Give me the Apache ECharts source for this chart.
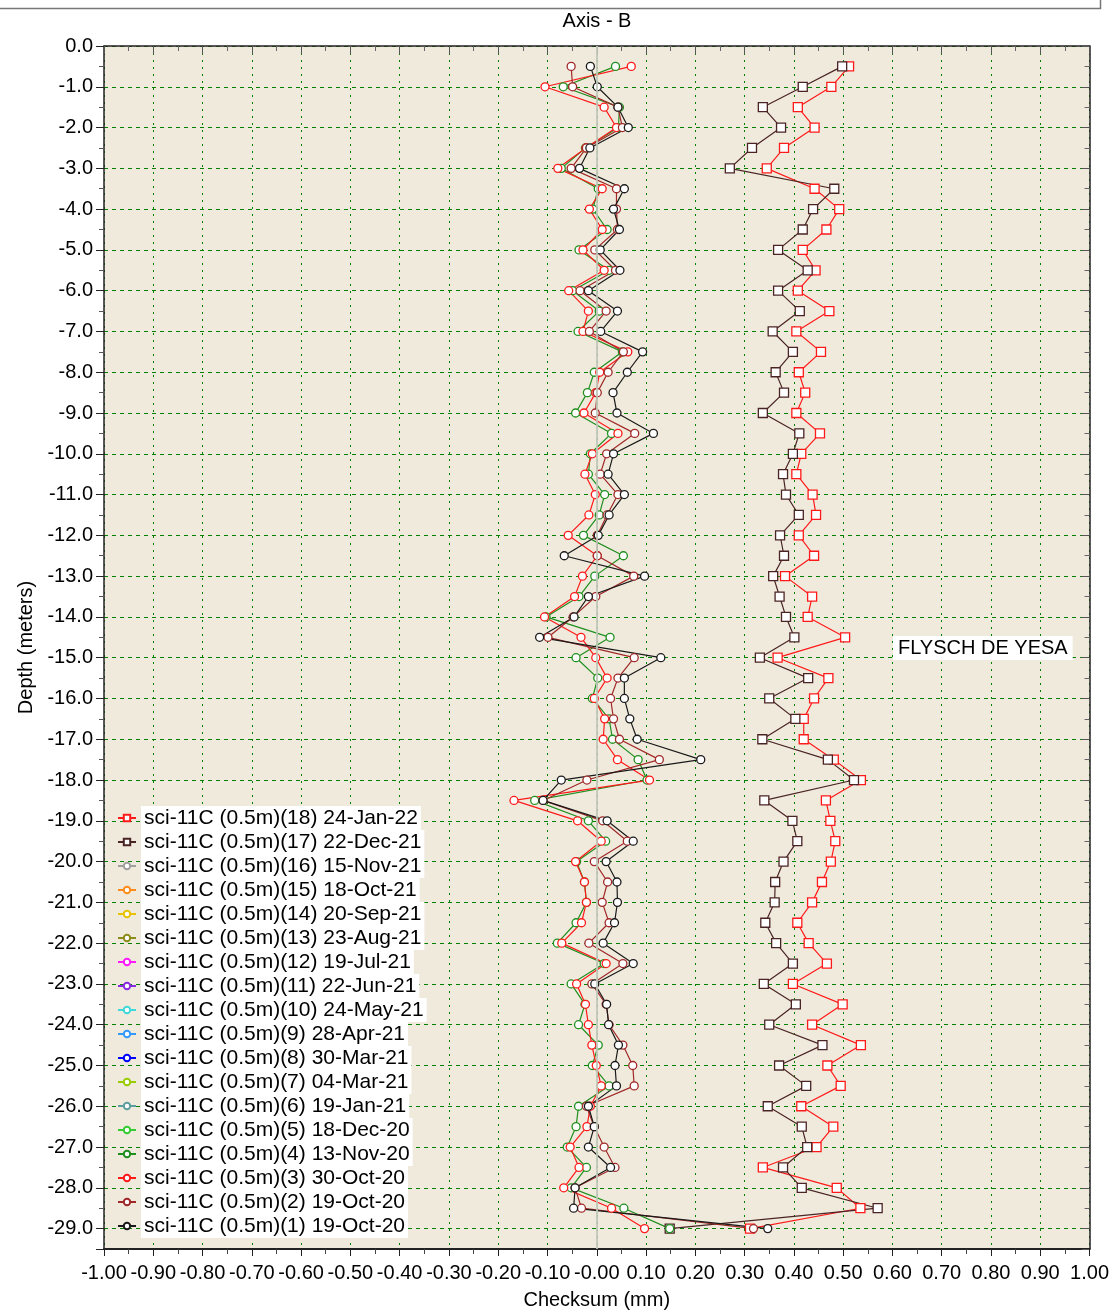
<!DOCTYPE html>
<html>
<head>
<meta charset="utf-8">
<title>Axis - B</title>
<script src="https://cdn.jsdelivr.net/npm/echarts@6/dist/echarts.min.js"></script>
<style>
  html, body { margin: 0; padding: 0; background: #fff; }
  #chart { width: 1112px; height: 1315px; }
</style>
</head>
<body>
<div id="chart"></div>
<script>
// depth of each reading (m, plotted downward)
var depths = [0.5, 1.0, 1.5, 2.0, 2.5, 3.0, 3.5, 4.0, 4.5, 5.0, 5.5, 6.0, 6.5, 7.0, 7.5, 8.0, 8.5, 9.0, 9.5, 10.0,
  10.5, 11.0, 11.5, 12.0, 12.5, 13.0, 13.5, 14.0, 14.5, 15.0, 15.5, 16.0, 16.5, 17.0, 17.5, 18.0, 18.5, 19.0, 19.5, 20.0,
  20.5, 21.0, 21.5, 22.0, 22.5, 23.0, 23.5, 24.0, 24.5, 25.0, 25.5, 26.0, 26.5, 27.0, 27.5, 28.0, 28.5, 29.0]

// checksum readings (mm), one per depth
var s18 = [0.512, 0.476, 0.408, 0.442, 0.380, 0.345, 0.442, 0.492, 0.466, 0.418, 0.444, 0.408, 0.472, 0.405, 0.455, 0.410,
  0.423, 0.405, 0.453, 0.415, 0.405, 0.438, 0.445, 0.410, 0.441, 0.382, 0.437, 0.428, 0.504, 0.367, 0.470, 0.441, 0.420,
  0.420, 0.481, 0.536, 0.465, 0.474, 0.484, 0.475, 0.457, 0.437, 0.407, 0.430, 0.467, 0.398, 0.499, 0.437, 0.536, 0.468,
  0.495, 0.415, 0.480, 0.446, 0.337, 0.487, 0.535, 0.311]
var s17 = [0.498, 0.418, 0.337, 0.374, 0.315, 0.270, 0.482, 0.439, 0.418, 0.368, 0.428, 0.368, 0.412, 0.357, 0.398, 0.363,
  0.380, 0.337, 0.411, 0.398, 0.378, 0.384, 0.410, 0.372, 0.380, 0.358, 0.371, 0.384, 0.401, 0.331, 0.429, 0.350, 0.403,
  0.336, 0.469, 0.522, 0.340, 0.397, 0.407, 0.379, 0.362, 0.361, 0.342, 0.364, 0.398, 0.339, 0.404, 0.350, 0.458, 0.370,
  0.425, 0.347, 0.416, 0.427, 0.378, 0.416, 0.570, 0.148]
var s4 = [0.038, -0.068, 0.046, 0.044, -0.023, -0.072, 0.003, -0.008, 0.021, -0.036, 0.025, -0.049, 0.005, -0.038, 0.052, -0.005,
  -0.019, -0.043, 0.030, -0.013, -0.017, 0.016, 0.005, -0.027, 0.054, -0.004, -0.036, -0.103, 0.027, -0.042, 0.002, -0.009, 0.025,
  0.032, 0.084, 0.102, -0.126, -0.017, 0.018, -0.041, -0.025, -0.021, -0.042, -0.080, 0.015, -0.052, -0.024, -0.037, 0.003, -0.009,
  0.025, -0.037, -0.042, -0.060, -0.021, -0.052, 0.055, 0.148]
var s3 = [0.070, -0.105, 0.015, 0.040, -0.022, -0.079, 0.011, -0.015, 0.011, -0.028, 0.015, -0.057, -0.017, -0.028, 0.063, 0.006,
  -0.002, -0.026, 0.043, -0.009, -0.024, -0.003, -0.016, -0.058, 0.001, -0.029, -0.045, -0.106, -0.032, -0.002, 0.021, -0.005, 0.016,
  0.013, 0.042, 0.107, -0.168, -0.039, 0.009, -0.043, -0.025, -0.021, -0.031, -0.071, 0.019, -0.041, -0.023, -0.017, -0.010, -0.001,
  0.009, -0.013, -0.020, -0.054, -0.036, -0.067, 0.030, 0.097]
var s2 = [-0.052, -0.049, 0.043, 0.052, -0.021, -0.052, 0.040, 0.040, 0.042, -0.004, 0.038, -0.034, 0.019, -0.015, 0.054, 0.023,
  0.001, -0.003, 0.077, 0.020, 0.007, 0.043, 0.021, 0.001, 0.001, 0.075, -0.002, -0.048, -0.099, 0.076, 0.043, 0.028, 0.034,
  0.046, 0.127, -0.020, -0.109, 0.012, 0.062, -0.005, 0.022, 0.011, 0.025, -0.016, 0.053, -0.010, 0.019, 0.025, 0.053, 0.073,
  0.076, -0.021, -0.005, 0.015, 0.037, -0.044, -0.031, 0.318]
var s1 = [-0.013, 0.001, 0.043, 0.064, -0.014, -0.035, 0.056, 0.034, 0.046, 0.007, 0.047, -0.017, 0.042, 0.008, 0.093, 0.062,
  0.033, 0.041, 0.115, 0.034, 0.023, 0.056, 0.025, 0.003, -0.066, 0.097, -0.017, -0.046, -0.116, 0.130, 0.056, 0.056, 0.067,
  0.082, 0.211, -0.072, -0.109, 0.021, 0.074, 0.019, 0.041, 0.042, 0.036, 0.013, 0.074, -0.004, 0.020, 0.024, 0.044, 0.037,
  0.040, -0.017, -0.005, -0.017, 0.028, -0.044, -0.047, 0.347]

// surveys, newest first (sets 5..16 have no readings drawn)
var surveyNames = [
  'sci-11C (0.5m)(18) 24-Jan-22', 'sci-11C (0.5m)(17) 22-Dec-21', 'sci-11C (0.5m)(16) 15-Nov-21',
  'sci-11C (0.5m)(15) 18-Oct-21', 'sci-11C (0.5m)(14) 20-Sep-21', 'sci-11C (0.5m)(13) 23-Aug-21',
  'sci-11C (0.5m)(12) 19-Jul-21', 'sci-11C (0.5m)(11) 22-Jun-21', 'sci-11C (0.5m)(10) 24-May-21',
  'sci-11C (0.5m)(9) 28-Apr-21', 'sci-11C (0.5m)(8) 30-Mar-21', 'sci-11C (0.5m)(7) 04-Mar-21',
  'sci-11C (0.5m)(6) 19-Jan-21', 'sci-11C (0.5m)(5) 18-Dec-20', 'sci-11C (0.5m)(4) 13-Nov-20',
  'sci-11C (0.5m)(3) 30-Oct-20', 'sci-11C (0.5m)(2) 19-Oct-20', 'sci-11C (0.5m)(1) 19-Oct-20'
]
var surveyValues = [s18, s17, [], [], [], [], [], [], [], [], [], [], [], [], s4, s3, s2, s1]
var surveyColors = ['#ff1a1a', '#4a2424', '#a0a0a0', '#ff8c1a', '#e6c200', '#8c8c1a', '#ff1aff', '#8a2be2', '#40d8d8',
  '#3399ff', '#0000ff', '#99cc00', '#5f9ea0', '#33cc33', '#1f8f1f', '#ff1a1a', '#a02828', '#1a1a1a']

var FONT = 'Liberation Sans, Arial, sans-serif'

var chart = echarts.init(document.getElementById('chart'))

var series = surveyNames.map(function (name, i) {
  var c = surveyColors[i]
  var s = {
    name: name,
    type: 'line',
    color: c,
    symbol: i < 2 ? 'rect' : 'circle',
    symbolSize: i < 2 ? 9 : 8,
    data: surveyValues[i].map(function (v, k) { return [v, depths[k]] }),
    lineStyle: { color: c, width: 1.2 },
    itemStyle: { color: '#fff', borderColor: c, borderWidth: 1.3 },
    emphasis: { disabled: true },
    z: 3
  }
  if (i === surveyNames.length - 1) {
    // zero reference line
    s.markLine = {
      silent: true,
      symbol: 'none',
      label: { show: false },
      lineStyle: { color: '#bfc7b8', width: 2, type: 'solid', opacity: 0.9 },
      data: [{ xAxis: 0 }]
    }
  }
  return s
})

var xBase = { type: 'value', min: -1, max: 1, interval: 0.1 }
var yBase = { type: 'value', inverse: true, min: 0, max: 29.5, interval: 1 }

chart.setOption({
  animation: false,
  textStyle: { fontFamily: FONT },
  grid: { left: 104, right: 22, top: 46, bottom: 65, show: true, backgroundColor: '#f0eadc', borderWidth: 0 },
  legend: {
    orient: 'vertical',
    left: 117,
    top: 806,
    padding: 0,
    itemGap: 0,
    itemWidth: 18,
    itemHeight: 8,
    selectedMode: false,
    textStyle: {
      fontFamily: FONT,
      fontSize: 21,
      color: '#000',
      backgroundColor: '#fff',
      lineHeight: 23,
      padding: [1, 3, 0, 3]
    }
  },
  xAxis: [
    Object.assign({}, xBase, {
      position: 'bottom',
      name: 'Checksum (mm)',
      nameLocation: 'middle',
      nameGap: 41,
      nameTextStyle: { fontFamily: FONT, fontSize: 20, color: '#000' },
      axisLine: { show: true, onZero: false, lineStyle: { color: '#222', width: 2 } },
      axisTick: { show: true, inside: false, length: 7, lineStyle: { color: '#222' } },
      minorTick: { show: true, splitNumber: 2, length: 5, lineStyle: { color: '#444' } },
      axisLabel: {
        fontFamily: FONT, fontSize: 20, color: '#000', margin: 14,
        showMinLabel: true, showMaxLabel: true,
        formatter: function (v) { return Math.abs(v) < 1e-9 ? '-0.00' : v.toFixed(2) }
      },
      splitLine: { show: true, lineStyle: { color: '#008000', width: 1, type: [2, 5] } }
    }),
    Object.assign({}, xBase, {
      position: 'top',
      axisLine: { show: true, onZero: false, lineStyle: { color: '#222', width: 1.5 } },
      axisTick: { show: true, inside: true, length: 8, lineStyle: { color: '#555' } },
      minorTick: { show: true, splitNumber: 2, length: 5, lineStyle: { color: '#666' } },
      axisLabel: { show: false },
      splitLine: { show: false }
    })
  ],
  yAxis: [
    Object.assign({}, yBase, {
      position: 'left',
      name: 'Depth (meters)',
      nameLocation: 'middle',
      nameGap: 68,
      nameRotate: 90,
      nameTextStyle: { fontFamily: FONT, fontSize: 20, color: '#000' },
      axisLine: { show: true, onZero: false, lineStyle: { color: '#222', width: 1.5 } },
      axisTick: { show: true, inside: false, length: 8, lineStyle: { color: '#222' } },
      minorTick: { show: true, splitNumber: 2, length: 5, lineStyle: { color: '#555' } },
      axisLabel: {
        fontFamily: FONT, fontSize: 20, color: '#000', margin: 11,
        formatter: function (v) {
          if (Math.abs(v - Math.round(v)) > 1e-9) return ''
          return v === 0 ? '0.0' : '-' + v.toFixed(1)
        }
      },
      splitLine: { show: true, lineStyle: { color: '#008000', width: 1, type: [4, 4] } }
    }),
    Object.assign({}, yBase, {
      position: 'right',
      axisLine: { show: true, onZero: false, lineStyle: { color: '#222', width: 1.5 } },
      axisTick: { show: true, inside: true, length: 8, lineStyle: { color: '#555' } },
      minorTick: { show: true, splitNumber: 2, length: 5, lineStyle: { color: '#666' } },
      axisLabel: { show: false },
      splitLine: { show: false }
    })
  ],
  graphic: [
    {
      type: 'polyline',
      shape: { points: [[0, 8.5], [1100.5, 8.5], [1100.5, 0]] },
      style: { stroke: '#777', lineWidth: 1.5, fill: null }
    },
    {
      type: 'text',
      x: 597,
      y: 21,
      style: {
        text: 'Axis - B', fontFamily: FONT, fontSize: 20, fill: '#000',
        align: 'center', verticalAlign: 'middle', backgroundColor: '#fff', padding: [1, 3]
      }
    },
    {
      type: 'text',
      x: 893,
      y: 648,
      z: 10,
      style: {
        text: 'FLYSCH DE YESA', fontFamily: FONT, fontSize: 20, fill: '#000',
        align: 'left', verticalAlign: 'middle', backgroundColor: '#fff', padding: [2, 5]
      }
    }
  ],
  series: series
})
</script>
</body>
</html>
